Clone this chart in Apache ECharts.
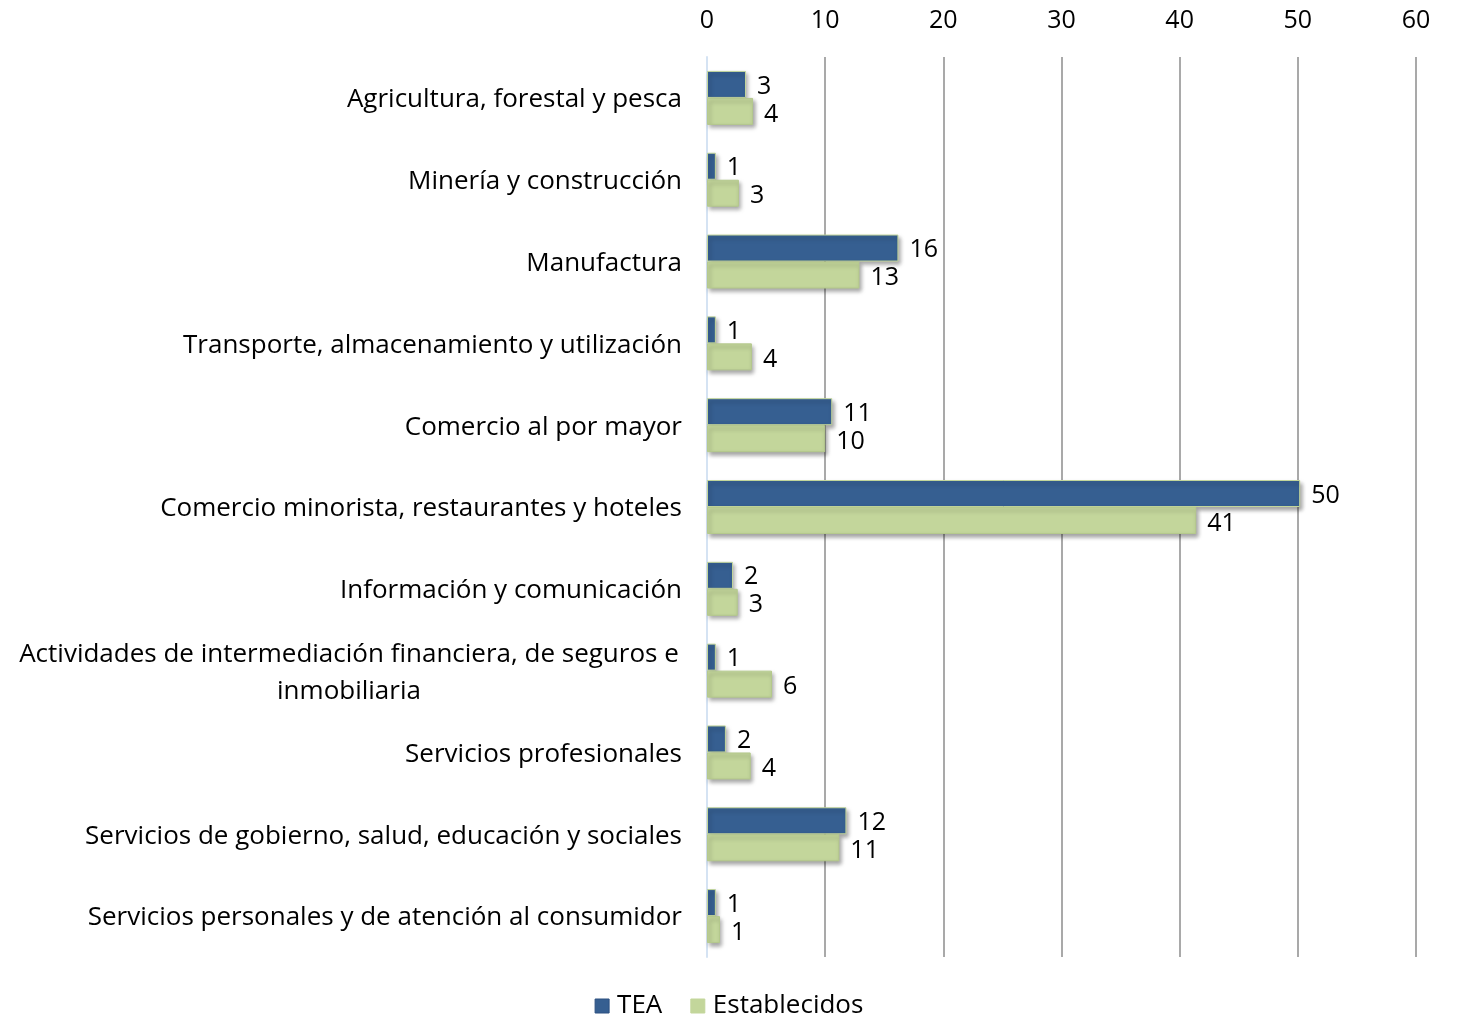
<!DOCTYPE html>
<html>
<head>
<meta charset="utf-8">
<script src="https://cdn.jsdelivr.net/npm/echarts@6/dist/echarts.min.js"></script>
<style>html,body{margin:0;padding:0;background:#fff}#c{width:1458px;height:1016px}</style>
</head>
<body>
<div id="c"></div>
<script>
const categories = [
  'Agricultura, forestal y pesca',
  'Minería y construcción',
  'Manufactura',
  'Transporte, almacenamiento y utilización',
  'Comercio al por mayor',
  'Comercio minorista, restaurantes y hoteles',
  'Información y comunicación',
  'Actividades de intermediación financiera, de seguros e\ninmobiliaria',
  'Servicios profesionales',
  'Servicios de gobierno, salud, educación y sociales',
  'Servicios personales y de atención al consumidor'
];
const teaValues = [3.3, 0.75, 16.2, 0.75, 10.6, 50.2, 2.2, 0.75, 1.6, 11.8, 0.75];
const establecidosValues = [3.9, 2.7, 12.9, 3.8, 10.0, 41.4, 2.6, 5.5, 3.7, 11.2, 1.1];
const xTicks = [0, 10, 20, 30, 40, 50, 60];

const FONT = 'Open Sans';
const chart = echarts.init(document.getElementById('c'), null, {renderer: 'canvas'});
const shadow = {shadowColor: 'rgba(0,0,0,0.35)', shadowBlur: 4, shadowOffsetX: 2, shadowOffsetY: 3};
chart.setOption({
  animation: false,
  textStyle: {fontFamily: FONT},
  grid: {left: 707, right: 42, top: 57, bottom: 59, containLabel: false},
  legend: {
    top: 988, left: 'center', itemWidth: 14, itemHeight: 14, itemGap: 28, icon: 'rect',
    textStyle: {fontFamily: FONT, fontSize: 26, color: '#000', padding: [0, 0, 0, 3]},
    data: [
      {name: 'TEA', itemStyle: {borderColor: '#2c5080', borderWidth: 1}},
      {name: 'Establecidos', itemStyle: {borderColor: '#c3d69b', borderWidth: 1}}
    ]
  },
  xAxis: {
    type: 'value', position: 'top', min: xTicks[0], max: xTicks[xTicks.length - 1], interval: 10,
    axisLine: {show: false}, axisTick: {show: false},
    axisLabel: {fontFamily: FONT, fontSize: 25, color: '#000', margin: 24},
    splitLine: {show: true, lineStyle: {color: '#8c8c8c', width: 1.5}}
  },
  yAxis: {
    type: 'category', inverse: true, data: categories,
    axisLine: {show: true, lineStyle: {color: '#d5e3f3', width: 2}},
    axisTick: {show: false},
    axisLabel: {
      fontFamily: FONT, fontSize: 26, color: '#000', margin: 25, lineHeight: 37, padding: [4, 0, 0, 0],
      formatter: function (v) {
        if (v.indexOf('\n') >= 0) {
          return v.split('\n').map(s => '{c|' + s + '}').join('\n');
        }
        return v;
      },
      rich: {c: {width: 666, align: 'center', fontFamily: FONT, fontSize: 26, color: '#000', lineHeight: 37}}
    }
  },
  series: [
    {
      name: 'TEA', type: 'bar', data: teaValues, barCategoryGap: '34%', barGap: '0%',
      itemStyle: Object.assign({color: '#365f91', borderColor: '#c3d69b', borderWidth: 1}, shadow),
      label: {show: true, position: 'right', distance: 11, offset: [0, 2], fontFamily: FONT, fontSize: 25, color: '#000',
        formatter: p => Math.round(p.value)}
    },
    {
      name: 'Establecidos', type: 'bar', data: establecidosValues,
      itemStyle: Object.assign({color: '#c3d69b', borderColor: '#b5c98c', borderWidth: 1}, shadow),
      label: {show: true, position: 'right', distance: 11, offset: [0, 3], fontFamily: FONT, fontSize: 25, color: '#000',
        formatter: p => Math.round(p.value)}
    }
  ]
});
</script>
</body>
</html>
